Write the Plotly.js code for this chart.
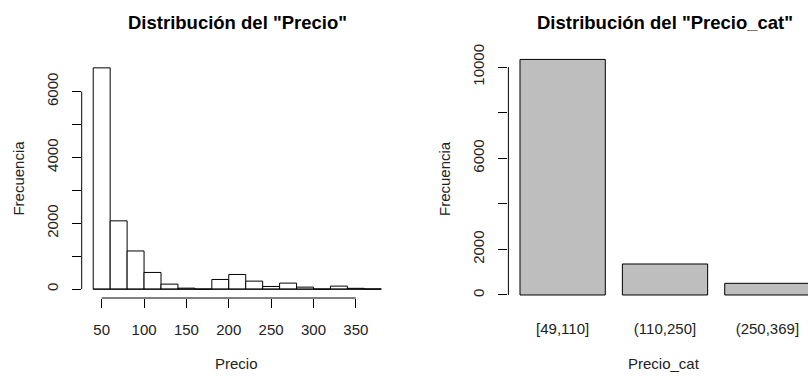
<!DOCTYPE html>
<html>
<head>
<meta charset="utf-8">
<script src="https://cdn.plot.ly/plotly-3.0.1.min.js"></script>
<style>html,body{margin:0;padding:0;background:#fff;}#chart{width:808px;height:376px;}</style>
</head>
<body>
<div id="chart"></div>
<script>
// Histogram of Precio (bin width 20)
const binStarts = [40, 60, 80, 100, 120, 140, 160, 180, 200, 220, 240, 260, 280, 300, 320, 340, 360];
const binCounts = [6720, 2074, 1159, 507, 152, 30, 0, 294, 446, 244, 81, 183, 61, 0, 92, 25, 5];
const binWidth = 20;
const histTicks = [50, 100, 150, 200, 250, 300, 350];
const histYTicks = [0, 1000, 2000, 3000, 4000, 5000, 6000];
const histYLabels = ["0", "", "2000", "", "4000", "", "6000"];

// Barplot of Precio_cat
const categories = ["[49,110]", "(110,250]", "(250,369]"];
const catCounts = [10336, 1360, 512];
const catYTicks = [0, 2000, 4000, 6000, 8000, 10000];
const catYLabels = ["0", "2000", "", "6000", "", "10000"];

const FONT = "Arial, 'Liberation Sans', sans-serif";
const TXT = "#222";

const traces = [
  {
    type: "bar", x: binStarts, y: binCounts, width: binWidth, offset: 0,
    marker: {color: "#ffffff", line: {color: "#000", width: 1}},
    xaxis: "x", yaxis: "y", hoverinfo: "skip"
  },
  {
    type: "bar", x: categories, y: catCounts, width: 1 / 1.2,
    marker: {color: "#bebebe", line: {color: "#000", width: 1}},
    xaxis: "x2", yaxis: "y2", hoverinfo: "skip"
  }
];

const histEnd = binStarts[binStarts.length - 1] + binWidth;
const shapes = [
  // histogram baseline (zero-height bins)
  {type: "line", xref: "x", yref: "y", x0: binStarts[0], x1: histEnd, y0: 0, y1: 0, line: {color: "#000", width: 1}},
  // R-style axis lines
  {type: "line", xref: "x", yref: "y domain", x0: histTicks[0], x1: histTicks[histTicks.length - 1], y0: 0, y1: 0, line: {color: "#000", width: 1}},
  {type: "line", xref: "x domain", yref: "y", x0: 0, x1: 0, y0: histYTicks[0], y1: histYTicks[histYTicks.length - 1], line: {color: "#000", width: 1}},
  {type: "line", xref: "x2 domain", yref: "y2", x0: 0, x1: 0, y0: catYTicks[0], y1: catYTicks[catYTicks.length - 1], line: {color: "#000", width: 1}}
];

const ann = (text, x, y, size, bold, angle) => ({
  text: bold ? "<b>" + text + "</b>" : text, x: x, y: y, xref: "paper", yref: "paper",
  xanchor: "center", yanchor: "middle", showarrow: false, textangle: angle || 0,
  font: {family: FONT, size: size, color: bold ? "#000" : TXT}
});

const layout = {
  width: 808, height: 376,
  margin: {l: 0, r: 0, t: 0, b: 0},
  paper_bgcolor: "#fff", plot_bgcolor: "#fff",
  showlegend: false,
  font: {family: FONT, size: 15, color: TXT},
  xaxis: {
    domain: [81.7 / 808, 392.8 / 808], range: [26.4, 393.6],
    tickvals: histTicks, ticktext: histTicks.map(String),
    ticks: "outside", ticklen: 9, tickcolor: "#000", tickwidth: 1,
    showgrid: false, zeroline: false, showline: false, ticklabelstandoff: 9,
    tickfont: {family: FONT, size: 15, color: TXT}, anchor: "y"
  },
  yaxis: {
    domain: [78 / 376, 317 / 376], range: [-269, 6989],
    tickvals: histYTicks, ticktext: histYLabels, tickangle: -90,
    ticks: "outside", ticklen: 9, tickcolor: "#000", tickwidth: 1,
    showgrid: false, zeroline: false, showline: false, ticklabelstandoff: 8,
    tickfont: {family: FONT, size: 15, color: TXT}, anchor: "x"
  },
  xaxis2: {
    domain: [508.4 / 808, 1], range: [-0.53, 2.397], type: "category",
    ticks: "", showgrid: false, zeroline: false, showline: false, ticklabelstandoff: 14,
    tickfont: {family: FONT, size: 15, color: TXT}, anchor: "y2"
  },
  yaxis2: {
    domain: [71.6 / 376, 326 / 376], range: [-413, 10749],
    tickvals: catYTicks, ticktext: catYLabels, tickangle: -90,
    ticks: "outside", ticklen: 9, tickcolor: "#000", tickwidth: 1,
    showgrid: false, zeroline: false, showline: false, ticklabelstandoff: 8,
    tickfont: {family: FONT, size: 15, color: TXT}, anchor: "x2"
  },
  shapes: shapes,
  annotations: [
    ann('Distribución del "Precio"', 237.3 / 808, 1 - 22.7 / 376, 18.5, true),
    ann('Distribución del "Precio_cat"', 665 / 808, 1 - 22.7 / 376, 18.5, true),
    ann("Precio", 236.7 / 808, 1 - 363 / 376, 15, false),
    ann("Precio_cat", 664 / 808, 1 - 363 / 376, 15, false),
    ann("Frecuencia", 18.3 / 808, 1 - 178.3 / 376, 15, false, -90),
    ann("Frecuencia", 444.7 / 808, 1 - 178.3 / 376, 15, false, -90)
  ]
};

Plotly.newPlot("chart", traces, layout, {staticPlot: true, displayModeBar: false});
</script>
</body>
</html>
